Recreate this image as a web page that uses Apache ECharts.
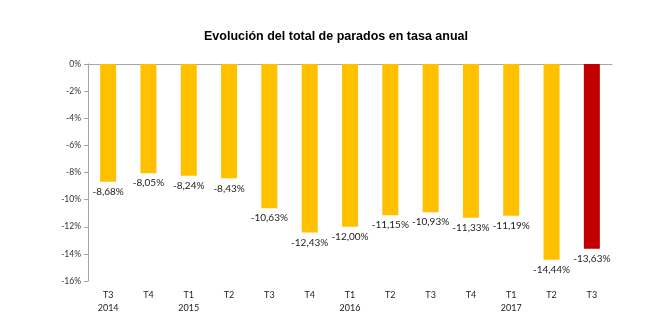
<!DOCTYPE html>
<html><head><meta charset="utf-8">
<script src="https://cdn.jsdelivr.net/npm/echarts@6/dist/echarts.min.js"></script>
<style>html,body{margin:0;padding:0;background:#fff}#c{width:660px;height:331px}</style>
</head><body><div id="c"></div>
<script>
const quarters = ['T3','T4','T1','T2','T3','T4','T1','T2','T3','T4','T1','T2','T3'];
const years = ['2014','','2015','','','','2016','','','','2017','',''];
const values = [-8.68,-8.05,-8.24,-8.43,-10.63,-12.43,-12.00,-11.15,-10.93,-11.33,-11.19,-14.44,-13.63];
const highlightIndex = 12;
const categories = quarters.map((q,i)=> years[i] ? q + '\n' + years[i] : q);
const chart = echarts.init(document.getElementById('c'));
const fmt = v => v.toFixed(2).replace('.', ',') + '%';
chart.setOption({
  animation:false,
  title:{text:'Evolución del total de parados en tasa anual',left:199,top:25,
    textStyle:{fontFamily:'Liberation Sans',fontSize:12.5,fontWeight:'bold',color:'#000'}},
  grid:{left:88,right:48,top:64,bottom:50},
  xAxis:[{type:'category',data:categories,position:'bottom',
    axisLine:{show:false},axisTick:{show:false},
    axisLabel:{fontFamily:'Lato',fontSize:9,color:'#222',lineHeight:13,margin:8}},
   {type:'category',data:categories,position:'top',
    axisLine:{show:true,lineStyle:{color:'#a6a6a6'}},axisTick:{show:false},axisLabel:{show:false}}],
  yAxis:{type:'value',min:-16,max:0,interval:2,
    axisLine:{show:true,lineStyle:{color:'#a6a6a6'}},
    axisTick:{show:true,length:4,lineStyle:{color:'#a6a6a6'}},
    splitLine:{show:false},
    axisLabel:{fontFamily:'Lato',fontSize:8.5,color:'#333',margin:7,formatter:v=>v+'%'}},
  series:[{type:'bar',data:values.map((v,i)=>({value:v,itemStyle:{color:i===highlightIndex?'#c00000':'#ffc000'}})),
    barWidth:16,
    label:{show:true,position:'bottom',distance:5,fontFamily:'Lato',fontSize:10,color:'#222',
      formatter:p=>fmt(p.value)}}]
});
</script></body></html>
